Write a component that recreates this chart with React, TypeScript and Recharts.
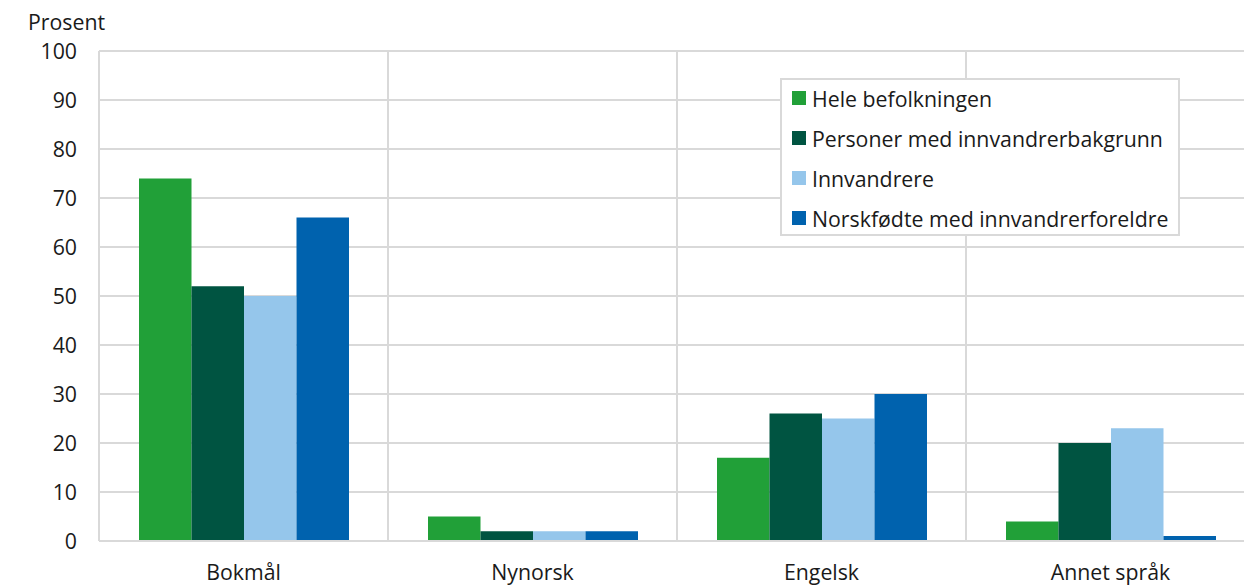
import { BarChart, Bar, XAxis, YAxis, CartesianGrid } from "recharts";

const categories = ["Bokmål", "Nynorsk", "Engelsk", "Annet språk"];
const seriesNames = [
  "Hele befolkningen",
  "Personer med innvandrerbakgrunn",
  "Innvandrere",
  "Norskfødte med innvandrerforeldre",
];
const hele = [74, 5, 17, 4];
const bakgrunn = [52, 2, 26, 20];
const innvandrere = [50, 2, 25, 23];
const norskfodte = [66, 2, 30, 1];
const yTicks = [0, 10, 20, 30, 40, 50, 60, 70, 80, 90, 100];

const colors = ["#21a038", "#005441", "#95c6eb", "#0062ae"];
const keys = ["s0", "s1", "s2", "s3"];
const seriesValues = [hele, bakgrunn, innvandrere, norskfodte];

const data = categories.map((name, i) => ({
  name,
  s0: seriesValues[0][i],
  s1: seriesValues[1][i],
  s2: seriesValues[2][i],
  s3: seriesValues[3][i],
}));

const font = "'Open Sans', sans-serif";
const fontSize = 21.3;
const textColor = "#1a1a1a";
const gridColor = "#d9d9d9";

function LegendBox() {
  return (
    <div
      style={{
        position: "absolute",
        left: 780,
        top: 78,
        width: 386,
        height: 154,
        border: `2px solid ${gridColor}`,
        background: "#fff",
        padding: "0 0 0 10px",
        fontFamily: font,
        fontSize,
        color: textColor,
        boxSizing: "content-box",
      }}
    >
      <div style={{ marginTop: -2 }}>
        {seriesNames.map((n, i) => (
          <div
            key={n}
            style={{ display: "flex", alignItems: "center", height: 40, whiteSpace: "nowrap" }}
          >
            <span
              style={{
                display: "inline-block",
                width: 14,
                height: 14,
                background: colors[i],
                marginRight: 6,
              }}
            />
            <span>{n}</span>
          </div>
        ))}
      </div>
    </div>
  );
}

export default function App() {
  return (
    <div
      style={{
        position: "absolute",
        left: 0,
        top: 0,
        width: 1244,
        height: 588,
        overflow: "hidden",
        background: "#fff",
      }}
    >
      <div
        style={{
          position: "absolute",
          left: 28,
          top: 7,
          fontFamily: font,
          fontSize,
          color: textColor,
        }}
      >
        Prosent
      </div>
      <BarChart
        width={1255}
        height={588}
        data={data}
        margin={{ top: 51, right: 0, left: 0, bottom: 0 }}
        barSize={52.5}
        barGap={0}
      >
        <CartesianGrid
          stroke={gridColor}
          strokeWidth={2}
          verticalCoordinatesGenerator={({ offset }: any) =>
            [1, 2, 3].map((i) => offset.left + (i * offset.width) / 4)
          }
        />
        <XAxis
          dataKey="name"
          height={47}
          axisLine={{ stroke: gridColor, strokeWidth: 2 }}
          tickLine={false}
          tickSize={0}
          tickMargin={24}
          tick={{ fill: textColor, fontFamily: font, fontSize }}
        />
        <YAxis
          width={99}
          domain={[0, 100]}
          ticks={yTicks}
          interval={0}
          axisLine={{ stroke: gridColor, strokeWidth: 2 }}
          tickLine={false}
          tickSize={0}
          tickMargin={22}
          tick={{ fill: textColor, fontFamily: font, fontSize }}
        />
        {keys.map((k, i) => (
          <Bar
            key={k}
            dataKey={k}
            name={seriesNames[i]}
            fill={colors[i]}
            isAnimationActive={false}
          />
        ))}
      </BarChart>
      <LegendBox />
    </div>
  );
}
